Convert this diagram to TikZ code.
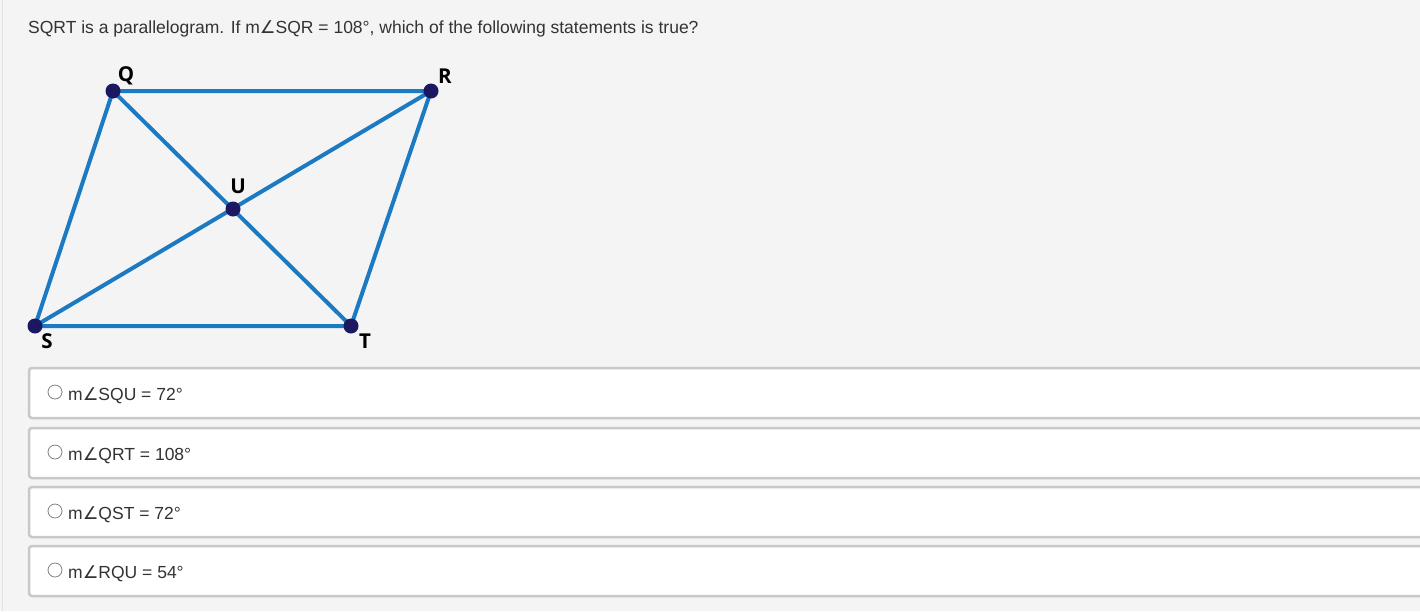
\documentclass[tikz,border=0pt]{standalone}
\usepackage{fontspec}
\setmainfont{Liberation Sans}
\newfontfamily\dejavu{DejaVu Sans}
\newfontfamily\lblfont{Open Sans}
\definecolor{bgc}{HTML}{F4F4F4}
\definecolor{edgec}{HTML}{E2E2E2}
\definecolor{linec}{HTML}{1C7AC3}
\definecolor{dotc}{HTML}{1B1760}
\definecolor{boxc}{HTML}{C8C8C8}
\definecolor{txtc}{HTML}{333333}
\definecolor{radc}{HTML}{808080}
\newcommand{\ang}{{\dejavu ∠}}
\begin{document}
\begin{tikzpicture}[x=1pt,y=-1pt,
  seg/.style={draw=linec,line width=4pt},
  vdot/.style={circle,fill=dotc,inner sep=0pt,minimum size=15pt},
  vlbl/.style={font=\lblfont\bfseries\fontsize{20.5}{20.5}\selectfont,text=black,inner sep=0pt},
  optbox/.style={draw=boxc,fill=white,line width=2.5pt,rounded corners=3pt},
  radio/.style={circle,draw=radc,fill=white,line width=0.8pt,inner sep=0pt,minimum size=14pt},
  opttext/.style={anchor=base west,inner sep=0pt,text=txtc,font=\fontsize{17.5}{19}\selectfont},
]
\useasboundingbox (0,0) rectangle (1420,611);
\fill[bgc] (0,0) rectangle (1420,611);
\draw[edgec,line width=1.2pt] (2.5,0) -- (2.5,611);

\node[opttext] (title) at (28,33) {SQRT is a parallelogram. If m\ang SQR = 108°, which of the following statements is true?};

\coordinate (Q) at (113,91);
\coordinate (R) at (431,91);
\coordinate (S) at (35,326);
\coordinate (T) at (351,326);
\coordinate (U) at (233,209);

\draw[seg] (Q) -- (R) -- (T) -- (S) -- cycle;
\draw[seg] (Q) -- (T);
\draw[seg] (S) -- (R);

\foreach \p in {Q,R,S,T,U} \node[vdot] (d\p) at (\p) {};

\node[vlbl] (lQ) at (126,76) {Q};
\node[vlbl] (lR) at (445,76) {R};
\node[vlbl] (lU) at (238,186) {U};
\node[vlbl] (lS) at (47,341) {S};
\node[vlbl] (lT) at (365,341) {T};

\foreach \i/\top/\txt in {1/368/{m\ang SQU = 72°},2/428/{m\ang QRT = 108°},3/487/{m\ang QST = 72°},4/546/{m\ang RQU = 54°}}{
  \draw[optbox] (29,\top) rectangle (1450,\top+50);
  \node[radio] (r\i) at (55,\top+24) {};
  \node[opttext] (o\i) at (68,\top+32) {\txt};
}
\end{tikzpicture}
\end{document}
